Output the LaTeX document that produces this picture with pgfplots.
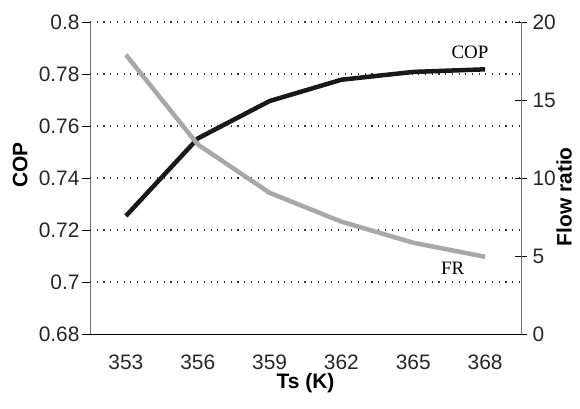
\documentclass[border=0pt]{standalone}
\usepackage{pgfplots}
\pgfplotsset{compat=1.18}
\usepackage{fontspec}
\setmainfont{Liberation Sans}
\newfontfamily\seriffont{Liberation Serif}
\definecolor{frgray}{HTML}{A8A8A8}
\definecolor{axgray}{HTML}{707070}
\pgfplotsset{
  common/.style={
    at={(90bp,74bp)}, anchor=south west, scale only axis,
    width=431bp, height=312bp,
    xmin=-0.5, xmax=5.5,
    /pgf/number format/assume math mode=true,
    ticklabel style={font=\fontsize{21}{23}\selectfont, text=black!85},
    label style={font=\bfseries\fontsize{21}{23}\selectfont},
  }
}
\begin{document}
\begin{tikzpicture}[x=1bp,y=1bp]
\useasboundingbox (0,0) rectangle (580,408);
\begin{axis}[common,
  axis x line*=bottom, axis y line*=left,
  x axis line style={black, line width=0.8pt, -},
  y axis line style={axgray, line width=0.8pt, -},
  ymin=0.68, ymax=0.8,
  ytick={0.68,0.70,0.72,0.74,0.76,0.78,0.80},
  yticklabel style={/pgf/number format/fixed, /pgf/number format/precision=2, xshift=1bp},
  y tick style={black, line width=0.8pt},
  ytick align=outside, major tick length=8bp,
  extra y ticks={0.70,0.72,0.74,0.76,0.78,0.80},
  extra y tick labels={},
  extra y tick style={grid=major, major tick length=0pt},
  grid style={black!80, line width=1.1bp, dash pattern=on 1.1bp off 5.6bp},
  xtick={0,...,5}, xticklabels={353,356,359,362,365,368},
  x tick style={draw=none},
  minor xtick={-0.5,0.5,...,5.5},
  minor x tick style={black, line width=0.8pt},
  minor tick length=12bp, xtick align=center,
  xticklabel style={yshift=-13bp},
  xlabel={Ts (K)},
  xlabel style={at={(axis description cs:0.5,-0.158)}, anchor=center},
  ylabel={COP},
  ylabel style={at={(axis description cs:-0.162,0.542)}, anchor=center},
  clip=false,
]
\addplot[line width=4.5bp, black!90, line join=round] coordinates {
  (0,0.7254) (1,0.7552) (2,0.7696) (3,0.7778) (4,0.7808) (5,0.7818)
};
\node[font=\seriffont\fontsize{19}{21}\selectfont] at (axis cs:4.79,0.7885) {COP};
\node[font=\seriffont\fontsize{19}{21}\selectfont] at (axis cs:4.55,0.7054) {FR};
\end{axis}
\begin{axis}[common,
  axis x line=none, axis y line*=right,
  y axis line style={axgray, line width=0.8pt, -},
  ymin=0, ymax=20, ytick={0,5,...,20},
  y tick style={black, line width=0.8pt},
  ytick align=center, major tick length=12bp,
  yticklabel style={xshift=2bp},
  ylabel={Flow ratio},
  ylabel style={at={(axis description cs:1.1,0.44)}, anchor=center},
]
\addplot[line width=4.5bp, frgray, line join=round] coordinates {
  (0,17.9) (1,12.15) (2,9.05) (3,7.2) (4,5.85) (5,4.95)
};
\end{axis}
\end{tikzpicture}
\end{document}
